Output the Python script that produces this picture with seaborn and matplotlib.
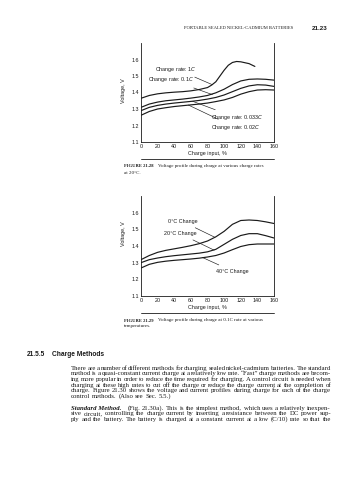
"""
Book page: voltage profiles of sealed Ni-Cd cells during charge
(Fig. 21.28 by charge rate, Fig. 21.29 by temperature) plus the page text.
"""
import matplotlib as mpl
import matplotlib.pyplot as plt
from matplotlib.lines import Line2D
import pandas as pd
import seaborn as sns

W_PX, H_PX = 357, 480

# ---- data -------------------------------------------------------------------
CHARGE_PCT = [0, 10, 20, 30, 40, 50, 60, 70, 80, 90, 100, 110, 120, 130, 140, 150, 160]

RATE_1C_PCT = [0, 10, 20, 30, 40, 50, 60, 70, 80, 85, 90, 95, 100, 105, 110, 115, 120, 130, 137]
RATE_1C_V = [1.365, 1.382, 1.392, 1.398, 1.402, 1.405, 1.41, 1.418, 1.43, 1.445, 1.465, 1.50,
             1.535, 1.565, 1.582, 1.588, 1.586, 1.575, 1.558]
RATE_01C_V = [1.31, 1.33, 1.342, 1.35, 1.355, 1.36, 1.366, 1.373, 1.382, 1.398, 1.42, 1.448,
              1.47, 1.48, 1.482, 1.48, 1.475]
RATE_0033C_V = [1.29, 1.31, 1.322, 1.33, 1.336, 1.341, 1.346, 1.352, 1.36, 1.37, 1.385, 1.405,
                1.425, 1.44, 1.447, 1.445, 1.437]
RATE_002C_V = [1.262, 1.285, 1.30, 1.308, 1.315, 1.32, 1.325, 1.33, 1.336, 1.345, 1.355, 1.37,
               1.39, 1.405, 1.415, 1.417, 1.415]

TEMP_0C_V = [1.318, 1.343, 1.362, 1.374, 1.383, 1.392, 1.402, 1.414, 1.43, 1.455, 1.488, 1.53,
             1.553, 1.556, 1.553, 1.545, 1.535]
TEMP_20C_V = [1.30, 1.318, 1.328, 1.336, 1.342, 1.347, 1.352, 1.357, 1.365, 1.38, 1.41, 1.44,
              1.463, 1.474, 1.474, 1.462, 1.448]
TEMP_40C_V = [1.268, 1.29, 1.302, 1.309, 1.314, 1.318, 1.322, 1.327, 1.334, 1.343, 1.358, 1.378,
              1.397, 1.408, 1.412, 1.412, 1.412]

X_TICKS = [0, 20, 40, 60, 80, 100, 120, 140, 160]
Y_TICKS = [1.1, 1.2, 1.3, 1.4, 1.5, 1.6]

PARA_1 = [
    "There are a number of different methods for charging sealed nickel-cadmium batteries. The standard",
    "method is a quasi-constant current charge at a relatively low rate. \u201cFast\u201d charge methods are becom-",
    "ing more popular in order to reduce the time required for charging. A control circuit is needed when",
    "charging at these high rates to cut off the charge or reduce the charge current at the completion of",
    "charge. Figure 21.30 shows the voltage and current profiles during charge for each of the charge",
    "control methods. (Also see Sec. 5.5.)",
]
PARA_2 = [
    "(Fig. 21.30a). This is the simplest method, which uses a relatively inexpen-",
    "sive circuit, controlling the charge current by inserting a resistance between the DC power sup-",
    "ply and the battery. The battery is charged at a constant current at a low (C/10) rate so that the",
]

SANS = "Liberation Sans"
SERIF = "Liberation Serif"
INK = "#1a1a1a"


def px(x, y):
    return x / W_PX, 1 - y / H_PX


def make_long(x, series):
    rows = []
    for name, vals in series.items():
        xs = x[name] if isinstance(x, dict) else x
        rows += [{"pct": a, "volt": b, "curve": name} for a, b in zip(xs, vals)]
    return pd.DataFrame(rows)


def style_axes(ax):
    ax.set_xlim(0, 160)
    ax.set_ylim(1.1, 1.7)
    ax.set_xticks(X_TICKS)
    ax.set_yticks(Y_TICKS)
    ax.set_yticklabels([f"{v:.1f}" for v in Y_TICKS])
    ax.tick_params(direction="in", length=2, width=0.5, labelsize=3.9, pad=1.6, colors=INK)
    ax.spines["top"].set_visible(False)
    for s in ["left", "right", "bottom"]:
        ax.spines[s].set_linewidth(0.6)
        ax.spines[s].set_color(INK)
    ax.set_xlabel("Charge input, %", fontsize=3.9, labelpad=1.5, color=INK)
    ax.set_ylabel("Voltage, V", fontsize=3.9, color=INK)
    ax.grid(False)


def leader(ax, label, text_xy, tip_xy, ha):
    ax.annotate(label, xy=tip_xy, xytext=text_xy, fontsize=3.9, ha=ha, va="center", color=INK,
                arrowprops=dict(arrowstyle="-", lw=0.45, color=INK, shrinkA=0.5, shrinkB=0))


def text_width(fig, renderer, s, **kw):
    t = fig.text(0, 0, s, **kw)
    w = t.get_window_extent(renderer).width
    t.remove()
    return w


def justified(fig, renderer, line, x0, x1, y, size, family, last=False, **kw):
    # y is the baseline in page pixels
    words = line.split(" ")
    arts = [fig.text(0, 0, w, fontsize=size, family=family, color=INK, va="baseline", **kw)
            for w in words]
    widths = [a.get_window_extent(renderer).width for a in arts]
    space = text_width(fig, renderer, "a a", fontsize=size, family=family) \
        - 2 * text_width(fig, renderer, "a", fontsize=size, family=family)
    gap = space if last or len(words) == 1 else (x1 - x0 - sum(widths)) / (len(words) - 1)
    x = x0
    for a, w in zip(arts, widths):
        a.set_position(px(x, y))
        x += w + gap


def caption(fig, renderer, y, number, first, second):
    cap = dict(fontsize=3.6, family=SERIF, color=INK, va="baseline")
    head = fig.text(*px(124, y), number, fontweight="bold", **{**cap, "fontsize": 3.3})
    x_text = 124 + head.get_window_extent(renderer).width + 5
    fig.text(*px(x_text, y), first, **cap)
    fig.text(*px(124, y + 6), second, **cap)


def main():
    sns.set_theme(style="white")
    mpl.rcParams["font.family"] = [SANS, "DejaVu Sans"]

    fig = plt.figure(figsize=(W_PX / 100, H_PX / 100), dpi=100, facecolor="white")
    renderer = fig.canvas.get_renderer()

    # ---- Figure 21.28 ----
    ax1 = fig.add_axes([141 / W_PX, 1 - 142 / H_PX, 133 / W_PX, 99 / H_PX])
    rates = make_long(
        {"1C": RATE_1C_PCT, "0.1C": CHARGE_PCT, "0.033C": CHARGE_PCT, "0.02C": CHARGE_PCT},
        {"1C": RATE_1C_V, "0.1C": RATE_01C_V, "0.033C": RATE_0033C_V, "0.02C": RATE_002C_V},
    )
    sns.lineplot(data=rates, x="pct", y="volt", units="curve", estimator=None, color=INK,
                 linewidth=0.85, sort=False, ax=ax1)
    style_axes(ax1)
    ax1.yaxis.set_label_coords(-0.11, 0.52)
    leader(ax1, "Change rate: 1$\\it{C}$", (67, 1.542), (86, 1.447), "right")
    leader(ax1, "Change rate: 0.1$\\it{C}$", (64, 1.476), (86, 1.387), "right")
    leader(ax1, "Change rate: 0.033$\\it{C}$", (84, 1.247), (62, 1.347), "left")
    leader(ax1, "Change rate: 0.02$\\it{C}$", (84, 1.189), (57, 1.324), "left")

    # ---- Figure 21.29 ----
    ax2 = fig.add_axes([141 / W_PX, 1 - 296 / H_PX, 133 / W_PX, 100 / H_PX])
    temps = make_long(CHARGE_PCT, {"0": TEMP_0C_V, "20": TEMP_20C_V, "40": TEMP_40C_V})
    sns.lineplot(data=temps, x="pct", y="volt", units="curve", estimator=None, color=INK,
                 linewidth=0.85, sort=False, ax=ax2)
    style_axes(ax2)
    ax2.yaxis.set_label_coords(-0.11, 0.62)
    leader(ax2, "0\u00b0C Change", (68, 1.546), (89, 1.452), "right")
    leader(ax2, "20\u00b0C Change", (67, 1.473), (88, 1.375), "right")
    leader(ax2, "40\u00b0C Change", (90, 1.25), (74, 1.331), "left")

    # rules under each chart
    for y in (159, 313):
        (xa, ya), (xb, _) = px(141, y), px(274, y)
        fig.add_artist(Line2D([xa, xb], [ya, ya], transform=fig.transFigure, lw=0.6, color=INK))

    caption(fig, renderer, 167.5, "FIGURE 21.28",
            "Voltage profile during charge at various charge rates", "at 20\u00b0C.")
    caption(fig, renderer, 321.5, "FIGURE 21.29",
            "Voltage profile during charge at 0.1C rate at various", "temperatures.")

    # running head
    fig.text(*px(184, 28), "PORTABLE SEALED NICKEL-CADMIUM BATTERIES", fontsize=3.3,
             family=SERIF, color=INK, va="center")
    fig.text(*px(328, 28), "21.23", fontsize=4.5, fontweight="bold", family=SANS,
             color=INK, va="center", ha="right")

    # section heading + body
    fig.text(*px(27, 355), "21.5.5", fontsize=4.8, fontweight="bold", family=SANS,
             color=INK, va="center")
    fig.text(*px(52, 355), "Charge Methods", fontsize=4.8, fontweight="bold", family=SANS,
             color=INK, va="center")

    body_size = 4.9
    for i, line in enumerate(PARA_1):
        justified(fig, renderer, line, 71, 331, 369.8 + i * 5.6, body_size, SERIF,
                  last=(i == len(PARA_1) - 1))
    lead = fig.text(*px(71, 409.8), "Standard Method.", fontsize=body_size, family=SERIF,
                    fontweight="bold", style="italic", color=INK, va="baseline")
    lead_w = lead.get_window_extent(renderer).width
    for i, line in enumerate(PARA_2):
        x0 = 71 + lead_w + 6 if i == 0 else 71
        justified(fig, renderer, line, x0, 331, 409.8 + i * 5.6, body_size, SERIF)

    fig.savefig("out.png", dpi=100, facecolor="white")
    plt.close(fig)


if __name__ == "__main__":
    main()
